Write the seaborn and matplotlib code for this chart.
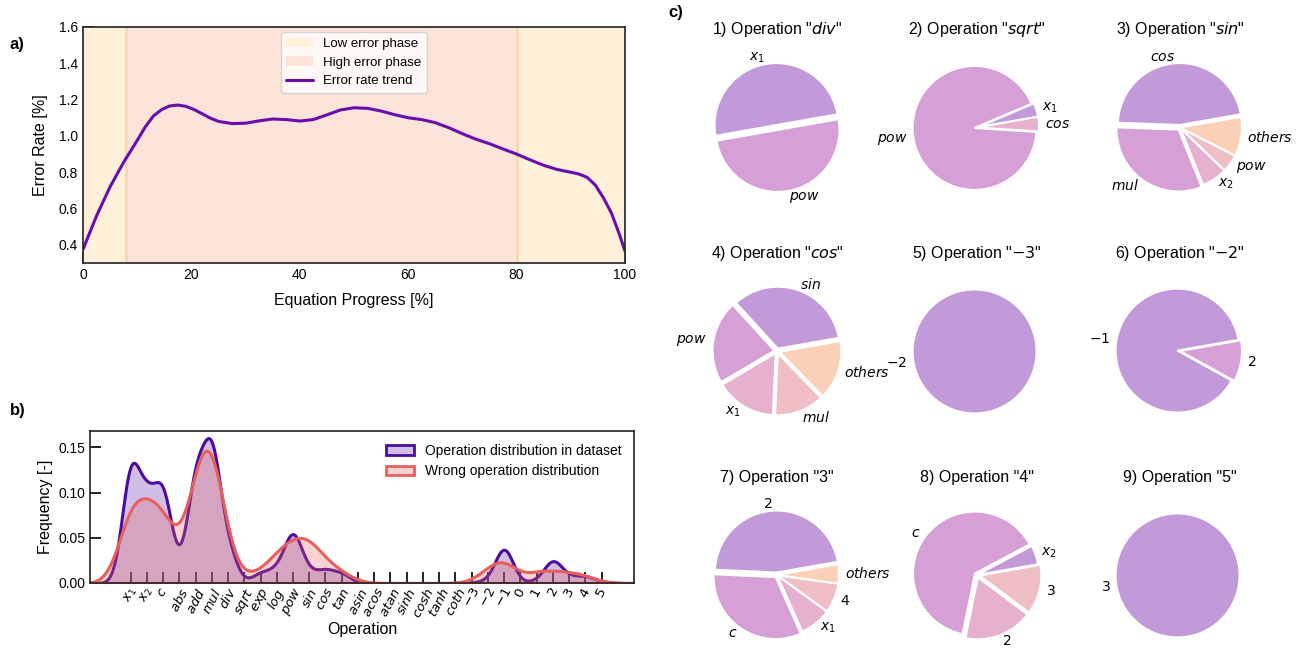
import numpy as np
import pandas as pd
import matplotlib
matplotlib.use("Agg")
import matplotlib.pyplot as plt
from matplotlib.patches import Patch
from matplotlib.lines import Line2D
import seaborn as sns

# ---------------------------------------------------------------- data
# (a) error rate along the equation
progress = [0, 2.5, 5, 7.5, 10, 11.5, 13, 14.5, 16, 17.5, 19, 20.5, 22, 23.5,
            25, 27.5, 30, 32.5, 35, 37.5, 40, 42.5, 45, 47.5, 50, 52.5, 55,
            57.5, 60, 62.5, 65, 67.5, 70, 72.5, 75, 77.5, 80, 82.5, 85, 87.5,
            90, 91.5, 93, 94.5, 96, 97.5, 99, 100]
error_rate = [0.375, 0.56, 0.72, 0.855, 0.975, 1.05, 1.11, 1.145, 1.165,
              1.17, 1.163, 1.145, 1.122, 1.098, 1.08, 1.068, 1.07, 1.083,
              1.093, 1.09, 1.082, 1.09, 1.116, 1.143, 1.155, 1.152, 1.137,
              1.117, 1.10, 1.09, 1.073, 1.045, 1.012, 0.982, 0.957, 0.928,
              0.90, 0.868, 0.838, 0.815, 0.80, 0.79, 0.772, 0.73, 0.66, 0.575,
              0.455, 0.365]
low_phases = [(0, 8), (80, 100)]
high_phase = (8, 80)

# (b) share of each operation
operations = ["$x_1$", "$x_2$", "$c$", "$abs$", "$add$", "$mul$", "$div$",
              "$sqrt$", "$exp$", "$log$", "$pow$", "$sin$", "$cos$", "$tan$",
              "$asin$", "$acos$", "$atan$", "$sinh$", "$cosh$", "$tanh$",
              "$coth$", "$-3$", "$-2$", "$-1$", "$0$", "$1$", "$2$", "$3$",
              "$4$", "$5$"]
freq_dataset = [0.163, 0.106, 0.128, 0.0085, 0.146, 0.186, 0.045, 0.0,
                0.0137, 0.017, 0.0716, 0.0125, 0.0174, 0.0128, 0.0003, 0.0,
                0.0, 0.0, 0.0, 0.0, 0.0, 0.0005, 0.0031, 0.052, 0.0, 0.0028,
                0.0325, 0.0076, 0.0091, 0.0017]
freq_wrong = [0.123, 0.084, 0.11, 0.0, 0.142, 0.222, 0.014, 0.006, 0.012,
              0.037, 0.054, 0.058, 0.023, 0.015, 0.0, 0.0, 0.0, 0.0, 0.0, 0.0,
              0.0, 0.0, 0.0175, 0.0386, 0.0, 0.0176, 0.0134, 0.013, 0.0107,
              0.0]

# (c) what each operation gets confused with
pie_titles = ['1) Operation "$div$"', '2) Operation "$sqrt$"',
              '3) Operation "$sin$"', '4) Operation "$cos$"',
              '5) Operation "$-3$"', '6) Operation "$-2$"',
              '7) Operation "3"', '8) Operation "4"', '9) Operation "5"']
pie_labels = [["$x_1$", "$pow$"],
              ["$x_1$", "$pow$", "$cos$"],
              ["$cos$", "$mul$", "$x_2$", "$pow$", "$others$"],
              ["$sin$", "$pow$", "$x_1$", "$mul$", "$others$"],
              ["$-2$"],
              ["$-1$", "$2$"],
              ["$2$", "$c$", "$x_1$", "$4$", "$others$"],
              ["$x_2$", "$c$", "$2$", "$3$"],
              ["$3$"]]
pie_shares = [[0.5, 0.5],
              [0.036, 0.926, 0.038],
              [0.467, 0.317, 0.067, 0.047, 0.103],
              [0.34, 0.217, 0.158, 0.13, 0.155],
              [1.0],
              [0.892, 0.108],
              [0.465, 0.324, 0.083, 0.078, 0.05],
              [0.05, 0.64, 0.18, 0.13],
              [1.0]]

# ---------------------------------------------------------------- style
sns.set_style("ticks")
plt.rcParams["font.family"] = ["Liberation Sans", "DejaVu Sans"]
plt.rcParams["mathtext.fontset"] = "dejavusans"
plt.rcParams["text.color"] = "black"
plt.rcParams["axes.labelcolor"] = "black"
plt.rcParams["xtick.color"] = "black"
plt.rcParams["ytick.color"] = "black"

LOW_COLOR = "#FFF0D9"
HIGH_COLOR = "#FCE4DB"
PHASE_EDGE = "#FAD6B4"
TREND_COLOR = "#6A0DAD"
DS_LINE = "#4B0C9E"
DS_FILL = (0.48, 0.31, 0.75, 0.36)
WR_LINE = "#E8605E"
WR_FILL = (0.91, 0.38, 0.37, 0.28)
PIE_COLORS = ["#C39AD9", "#D6A0D6", "#E6B1CF", "#F0BFC5", "#FAD0B9"]
SPINE = "#222222"

W, H = 1299, 655
fig = plt.figure(figsize=(W / 100, H / 100), dpi=100)


def px_rect(left, top, right, bottom):
    return [left / W, 1 - bottom / H, (right - left) / W, (bottom - top) / H]


def style_box(ax):
    for s in ax.spines.values():
        s.set_visible(True)
        s.set_color(SPINE)
        s.set_linewidth(1.2)
    ax.tick_params(direction="in", length=8, width=1.4, colors=SPINE,
                   labelcolor="black", labelsize=10, bottom=True, left=True,
                   top=False, right=False)


# ---------------------------------------------------------------- (a)
ax_a = fig.add_axes(px_rect(83, 27, 625, 263))
for lo, hi in low_phases:
    ax_a.axvspan(lo, hi, color=LOW_COLOR, lw=0)
ax_a.axvspan(*high_phase, color=HIGH_COLOR, lw=0)
for edge in (high_phase[0], high_phase[1]):
    ax_a.axvline(edge, color=PHASE_EDGE, lw=2.2)
sns.lineplot(x=progress, y=error_rate, color=TREND_COLOR, lw=2.2, ax=ax_a)
ax_a.set_xlim(0, 100)
ax_a.set_ylim(0.3, 1.6)
ax_a.set_xticks([0, 20, 40, 60, 80, 100])
ax_a.set_yticks([0.4, 0.6, 0.8, 1.0, 1.2, 1.4, 1.6])
ax_a.set_xlabel("Equation Progress [%]", fontsize=11.5, labelpad=8)
ax_a.set_ylabel("Error Rate [%]", fontsize=11.5, labelpad=8)
style_box(ax_a)
handles_a = [Patch(facecolor=LOW_COLOR, edgecolor="none", label="Low error phase"),
             Patch(facecolor=HIGH_COLOR, edgecolor="none", label="High error phase"),
             Line2D([], [], color=TREND_COLOR, lw=2.2, label="Error rate trend")]
ax_a.legend(handles=handles_a, loc="upper center", fontsize=9.5,
            frameon=True, framealpha=0.8, edgecolor="#CCCCCC",
            borderaxespad=0.4)

# ---------------------------------------------------------------- (b)
ax_b = fig.add_axes(px_rect(90, 431, 634, 583))
pos = np.arange(len(operations))
ops_df = pd.DataFrame({"pos": pos, "dataset": freq_dataset,
                       "wrong": freq_wrong})


def bandwidth_factor(weights, sigma):
    # gaussian_kde scales the weighted data std by this factor
    return sigma / np.sqrt(np.cov(pos, aweights=weights))


sns.kdeplot(data=ops_df, x="pos", weights="dataset",
            bw_method=bandwidth_factor(ops_df["dataset"], 0.55),
            fill=True, color=DS_LINE, facecolor=DS_FILL, linewidth=2.2,
            gridsize=800, ax=ax_b)
sns.kdeplot(data=ops_df, x="pos", weights="wrong",
            bw_method=bandwidth_factor(ops_df["wrong"], 0.85),
            fill=True, color=WR_LINE, facecolor=WR_FILL, linewidth=2.2,
            gridsize=800, ax=ax_b)
ax_b.set_xlim(-2.5, 31)
ax_b.set_ylim(0, 0.168)
ax_b.set_xticks(pos)
ax_b.set_xticklabels(operations, rotation=62, ha="center")
ax_b.set_yticks([0.0, 0.05, 0.10, 0.15])
ax_b.set_yticklabels(["0.00", "0.05", "0.10", "0.15"])
ax_b.set_xlabel("Operation", fontsize=11.5, labelpad=1)
ax_b.set_ylabel("Frequency [-]", fontsize=11.5)
style_box(ax_b)
ax_b.tick_params(axis="x", labelsize=9.5, pad=2)
handles_b = [Patch(facecolor=DS_FILL, edgecolor=DS_LINE, lw=2,
                   label="Operation distribution in dataset"),
             Patch(facecolor=WR_FILL, edgecolor=WR_LINE, lw=2,
                   label="Wrong operation distribution")]
ax_b.legend(handles=handles_b, loc="upper right", frameon=False, fontsize=10)

# ---------------------------------------------------------------- (c)
col_x = [777, 977, 1180]
row_y = [127.5, 351, 575]
half = 77.5
for i, (title, labels, shares) in enumerate(zip(pie_titles, pie_labels,
                                                 pie_shares)):
    r, c = divmod(i, 3)
    cx, cy = col_x[c], row_y[r]
    ax = fig.add_axes(px_rect(cx - half, cy - half, cx + half, cy + half))
    ax.pie(shares, labels=labels, colors=PIE_COLORS[:len(shares)],
           startangle=10,
           explode=[0.04 if s > 0.12 else 0.0 for s in shares],
           wedgeprops=dict(edgecolor="white", linewidth=1.5),
           textprops=dict(fontsize=10, color="black"))
    ax.set_title(title, fontsize=11.5, pad=11.5, color="black")

# ---------------------------------------------------------------- panel tags
fig.text(10 / W, 1 - 45 / H, "a)", fontsize=12, fontweight="bold", va="center")
fig.text(10 / W, 1 - 410 / H, "b)", fontsize=12, fontweight="bold", va="center")
fig.text(668 / W, 1 - 12 / H, "c)", fontsize=12, fontweight="bold", va="center")

fig.savefig("out.png", dpi=100)
